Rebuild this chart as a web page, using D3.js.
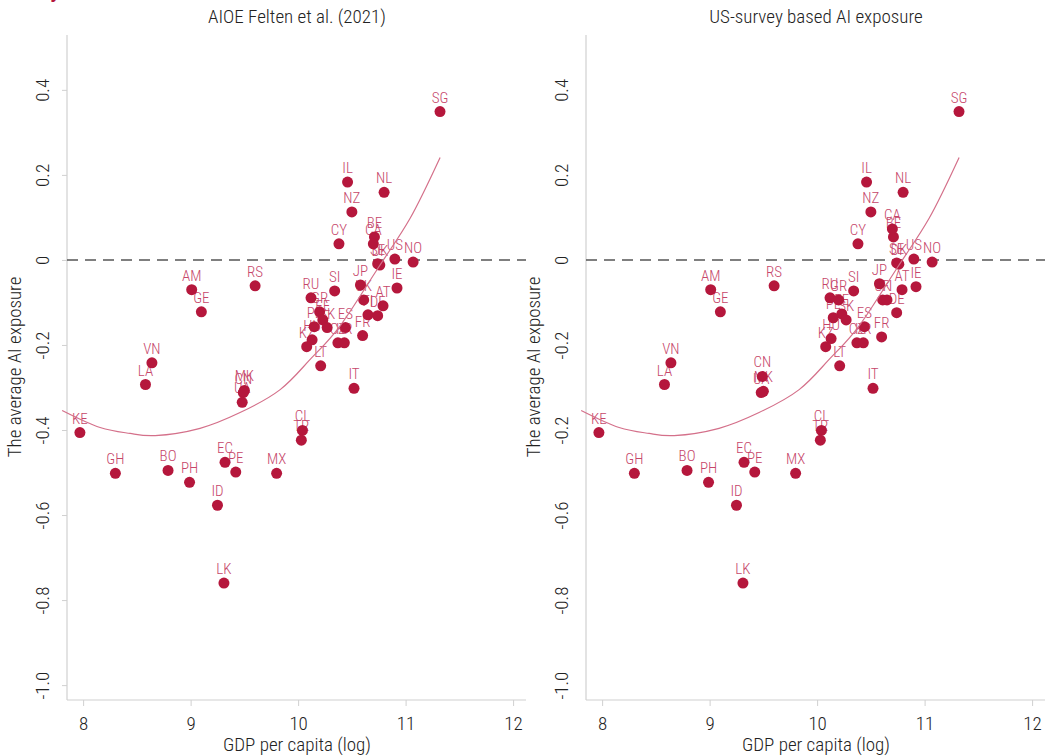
<!DOCTYPE html>
<html>
<head>
  <meta charset="utf-8">
  <title>AI exposure vs GDP</title>
  <style>
    body { margin: 0; background: #fff; }
    svg text { font-family: 'Roboto Condensed', 'Liberation Sans Narrow', 'DejaVu Sans Condensed', sans-serif; }
  </style>
</head>
<body>
<svg width="1045" height="756"></svg>
<script src="https://d3js.org/d3.v7.min.js"></script>
<script>

  // country codes, shared by both panels
  var countries = ['KE', 'GH', 'BO', 'PH', 'ID', 'LK', 'EC', 'PE', 'MX', 'CL', 'TR', 'MK', 'CN', 'UA',
    'LA', 'VN', 'AM', 'GE', 'RS', 'IL', 'NZ', 'NL', 'SG', 'CY', 'BE', 'CA', 'SE', 'DK', 'US', 'NO',
    'RU', 'SI', 'JP', 'GR', 'EE', 'PL', 'SK', 'ES', 'HU', 'KZ', 'CZ', 'KR', 'LT', 'FR', 'IT', 'UK',
    'FI', 'AT', 'DE', 'IE']

  // GDP per capita (log)
  var gdp = [7.97, 8.30, 8.79, 8.99, 9.25, 9.31, 9.32, 9.42, 9.80, 10.04, 10.03, 9.50, 9.49, 9.48,
    8.58, 8.64, 9.01, 9.10, 9.60, 10.46, 10.50, 10.80, 11.32, 10.38, 10.71, 10.70, 10.74, 10.76, 10.90, 11.07,
    10.12, 10.34, 10.58, 10.20, 10.23, 10.15, 10.27, 10.44, 10.13, 10.08, 10.37, 10.43, 10.21, 10.60, 10.52, 10.61,
    10.65, 10.79, 10.74, 10.92]

  // AIOE (Felten et al. 2021) average exposure
  var aioe = [-0.406, -0.502, -0.495, -0.523, -0.577, -0.760, -0.476, -0.499, -0.502, -0.401, -0.424, -0.307, -0.312, -0.335,
    -0.293, -0.242, -0.070, -0.122, -0.061, 0.183, 0.113, 0.159, 0.349, 0.038, 0.054, 0.038, -0.009, -0.012, 0.002, -0.005,
    -0.089, -0.073, -0.059, -0.122, -0.141, -0.157, -0.159, -0.159, -0.188, -0.204, -0.195, -0.195, -0.249, -0.178, -0.302, -0.094,
    -0.129, -0.108, -0.131, -0.066]

  // US-survey based exposure
  var survey = [-0.406, -0.502, -0.495, -0.523, -0.577, -0.760, -0.476, -0.499, -0.502, -0.401, -0.424, -0.309, -0.274, -0.312,
    -0.293, -0.242, -0.070, -0.122, -0.061, 0.183, 0.113, 0.159, 0.349, 0.038, 0.054, 0.073, -0.007, -0.010, 0.002, -0.005,
    -0.089, -0.073, -0.056, -0.094, -0.127, -0.136, -0.141, -0.157, -0.185, -0.204, -0.195, -0.195, -0.249, -0.181, -0.302, -0.094,
    -0.094, -0.070, -0.124, -0.063]

  // fitted curves
  var fitX = [7.805, 8.158, 8.437, 8.670, 9.088, 9.460, 9.833, 10.112, 10.391, 10.744, 11.042, 11.321]
  var fitAioe = [-0.354, -0.394, -0.408, -0.413, -0.396, -0.359, -0.305, -0.234, -0.155, -0.019, 0.098, 0.241]
  var fitSurvey = [-0.354, -0.394, -0.408, -0.413, -0.396, -0.359, -0.305, -0.234, -0.155, -0.019, 0.098, 0.241]

  var yTicks = [0.4, 0.2, 0, -0.2, -0.4, -0.6, -0.8, -1.0]
  var yLabelsLeft = ['0.4', '0.2', '0', '-0.2', '-0.4', '-0.6', '-0.8', '-1.0']
  var yLabelsRight = ['0.4', '0.2', '0', '-0.2', '-0.2', '-0.6', '-0.8', '-1.0']
  var xTicks = [8, 9, 10, 11, 12]

  var titles = ['AIOE Felten et al. (2021)', 'US-survey based AI exposure']

  var red = '#b5173c'
  var svg = d3.select('svg')

  // cut-off heading above the chart
  svg.append('text')
    .attr('x', 50).attr('y', -3)
    .attr('font-size', 24).attr('font-weight', 700)
    .attr('fill', red)
    .text('y')

  function panel(left, title, values, fitY, yLabels, showYTicks) {
    var x = d3.scaleLinear().domain([7.85, 12.12]).range([left, left + 459])
    var y = d3.scaleLinear().domain([-1.035, 0.529]).range([700, 35])
    var g = svg.append('g')

    g.append('text')
      .attr('x', left + 230).attr('y', 23)
      .attr('text-anchor', 'middle')
      .attr('font-size', 19).attr('font-weight', 300)
      .attr('fill', '#222')
      .text(title)

    // spines
    g.append('line')
      .attr('x1', left).attr('x2', left).attr('y1', 35).attr('y2', 700)
      .attr('stroke', '#d0d0d0').attr('stroke-width', 1.2)
    g.append('line')
      .attr('x1', left).attr('x2', left + 459).attr('y1', 700).attr('y2', 700)
      .attr('stroke', '#d0d0d0').attr('stroke-width', 1.2)

    // x axis
    var xa = g.append('g')
      .attr('transform', 'translate(0,700)')
      .call(d3.axisBottom(x).tickValues(xTicks).tickSize(6).tickPadding(11).tickFormat(d3.format('d')))
    xa.select('.domain').remove()
    xa.selectAll('line').attr('stroke', '#d0d0d0')
    xa.selectAll('text').attr('font-size', 19).attr('font-weight', 300).attr('fill', '#222')

    // y axis
    var ya = g.append('g')
      .attr('transform', 'translate(' + left + ',0)')
      .call(d3.axisLeft(y).tickValues(yTicks).tickSize(showYTicks ? 5 : 0)
        .tickFormat(function (d, i) { return yLabels[i] }))
    ya.select('.domain').remove()
    ya.selectAll('line').attr('stroke', '#d0d0d0')
    ya.selectAll('text')
      .attr('font-size', 19).attr('font-weight', 300).attr('fill', '#222')
      .attr('x', null).attr('dy', null)
      .attr('text-anchor', 'middle')
      .attr('transform', 'translate(-18,0) rotate(-90)')
      .attr('y', 0)

    g.append('text')
      .attr('transform', 'translate(' + (left - 46) + ',367) rotate(-90)')
      .attr('text-anchor', 'middle')
      .attr('font-size', 19).attr('font-weight', 300).attr('fill', '#222')
      .text('The average AI exposure')

    g.append('text')
      .attr('x', left + 230).attr('y', 751)
      .attr('text-anchor', 'middle')
      .attr('font-size', 19).attr('font-weight', 300).attr('fill', '#222')
      .text('GDP per capita (log)')

    // zero line
    g.append('line')
      .attr('x1', left).attr('x2', left + 459)
      .attr('y1', y(0)).attr('y2', y(0))
      .attr('stroke', '#555').attr('stroke-width', 1.4)
      .attr('stroke-dasharray', '11,7')

    var pts = countries.map(function (c, i) {
      return {code: c, gdp: gdp[i], v: values[i]}
    })

    g.selectAll('.lbl').data(pts).enter().append('text')
      .attr('class', 'lbl')
      .attr('x', function (d) { return x(d.gdp) })
      .attr('y', function (d) { return y(d.v) - 9 })
      .attr('text-anchor', 'middle')
      .attr('font-size', 15).attr('font-weight', 300)
      .attr('fill', '#c6466a')
      .text(function (d) { return d.code })

    g.selectAll('.dot').data(pts).enter().append('circle')
      .attr('class', 'dot')
      .attr('cx', function (d) { return x(d.gdp) })
      .attr('cy', function (d) { return y(d.v) })
      .attr('r', 5.5)
      .attr('fill', red)

    var line = d3.line()
      .x(function (d, i) { return x(fitX[i]) })
      .y(function (d) { return y(d) })
      .curve(d3.curveNatural)

    g.append('path')
      .datum(fitY)
      .attr('d', line)
      .attr('fill', 'none')
      .attr('stroke', '#d4708a')
      .attr('stroke-width', 1.2)
  }

  panel(67, titles[0], aioe, fitAioe, yLabelsLeft, true)
  panel(586, titles[1], survey, fitSurvey, yLabelsRight, false)

</script>
</body>
</html>
